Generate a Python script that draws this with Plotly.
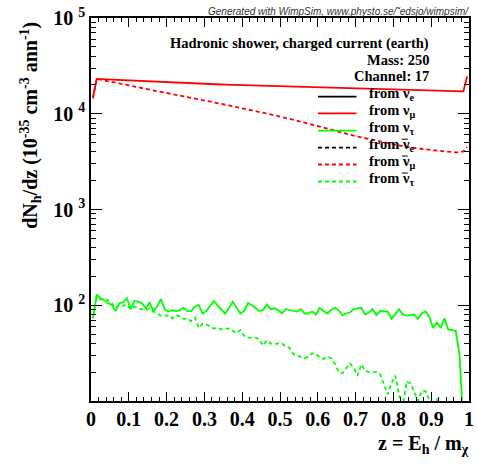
import plotly.graph_objects as go

# ---------------- data ----------------
z = [round(0.005 + 0.01 * i, 3) for i in range(100)]

numu = [14600,
        23100, 23000, 22900, 22800, 22700, 22600, 22500, 22400, 22300, 22200,
        22100, 22000, 21900, 21800, 21700, 21600, 21500, 21400, 21300, 21250,
        21150, 21100, 21000, 20950, 20900, 20800, 20750, 20650, 20600, 20500,
        20450, 20350, 20300, 20200, 20150, 20100, 20000, 19950, 19900, 19850,
        19800, 19750, 19700, 19650, 19600, 19550, 19500, 19450, 19400, 19350,
        19300, 19250, 19200, 19150, 19100, 19050, 19000, 18950, 18900, 18850,
        18800, 18780, 18750, 18700, 18650, 18600, 18560, 18520, 18480, 18450,
        18400, 18350, 18300, 18280, 18250, 18200, 18200, 18150, 18100, 18050,
        18000, 17950, 17900, 17850, 17800, 17750, 17700, 17650, 17600, 17550,
        17500, 17450, 17400, 17350, 17300, 17250, 17200, 17100, 24500]

numubar = [14500,
           23100, 22700, 22300, 21900, 21500, 21200, 20900, 20600, 20200, 19800,
           19400, 19000, 18600, 18200, 17850, 17500, 17200, 16900, 16600, 16300,
           16000, 15700, 15450, 15200, 14950, 14700, 14450, 14200, 13950, 13700,
           13450, 13200, 12950, 12700, 12450, 12200, 11950, 11700, 11450, 11250,
           11050, 10850, 10650, 10450, 10250, 10050, 9850, 9650, 9450, 9250,
           9100, 8900, 8700, 8500, 8300, 8100, 7900, 7700, 7500, 7300,
           7150, 6950, 6800, 6650, 6500, 6350, 6200, 6050, 5900, 5780,
           5650, 5530, 5410, 5300, 5190, 5080, 4980, 4880, 4790, 4710,
           4640, 4570, 4500, 4440, 4390, 4340, 4290, 4240, 4200, 4160,
           4120, 4080, 4040, 4000, 3970, 3950, 3960, 4050, 4500]

nutau = [73, 130, 118, 113, 105, 101, 87, 105, 107, 118,
         91, 111, 109, 105, 93, 107, 87, 97, 116, 91,
         86, 89, 87, 89, 94, 87, 87, 97, 101, 82,
         87, 97, 111, 99, 89, 82, 93, 109, 94, 82,
         87, 105, 101, 94, 87, 89, 102, 91, 93, 89,
         82, 91, 89, 87, 86, 91, 82, 82, 86, 80,
         94, 87, 82, 89, 94, 89, 79, 82, 84, 91,
         93, 94, 80, 84, 91, 79, 87, 86, 86, 72,
         80, 91, 80, 78, 79, 80, 72, 82, 86, 76,
         58, 66, 58, 73, 56, 55, 54, 30, 6, 1]

nutaubar = [78, 120, 116, 118, 113, 105, 93, 101, 99, 101,
            91, 97, 93, 91, 89, 93, 86, 82, 78, 78,
            78, 73, 79, 76, 72, 73, 68, 74, 58, 64,
            63, 60, 57, 58, 56, 57, 57, 54, 51, 55,
            48, 46, 46, 46, 44, 38, 43, 40, 39, 40,
            40, 37, 36, 31, 30, 29, 28, 29, 31.5, 31,
            28.5, 27.5, 29, 28, 24.7, 20, 19.5, 22, 24.7, 22.3,
            18.4, 24.1, 20.6, 20, 20, 20, 19, 14.7, 11.7, 15.3,
            18.4, 11.6, 9, 15.9, 15.3, 12.5, 10, 12.7, 12.7, 10.2,
            8, 10.6, 5, 1, 1, 1, 1, 1, 1, 1]

ytick_vals = [100, 1000, 10000, 100000]
ytick_text = ["10 <sup>2</sup>", "10 <sup>3</sup>", "10 <sup>4</sup>", "10 <sup>5</sup>"]

legend_labels = ["from ν<sub>e</sub>", "from ν<sub>μ</sub>", "from ν<sub>τ</sub>",
                 "from ν<sub>e</sub>", "from ν<sub>μ</sub>", "from ν<sub>τ</sub>"]
legend_antiparticle = [False, False, False, True, True, True]
legend_colors = ["black", "#ff0000", "#00ff00", "black", "#ff0000", "#00ff00"]
legend_dash = ["solid", "solid", "solid", "4px,3px", "4px,3px", "4px,3px"]

# ---------------- figure ----------------
W, H = 477, 470
ML, MR, MT, MB = 91, 3, 18, 69
PW, PH = W - ML - MR, H - MT - MB

def px(x):
    return (x - ML) / PW

def py(y):
    return (H - MB - y) / PH

SERIF = "Liberation Serif, Times New Roman, serif"
RED = "#ff0000"
GREEN = "#00ff00"
DASH = "4px,3px"

fig = go.Figure()
fig.add_trace(go.Scatter(x=z, y=numu, mode="lines", line=dict(color=RED, width=1.8), showlegend=False))
fig.add_trace(go.Scatter(x=z, y=numubar, mode="lines", line=dict(color=RED, width=1.8, dash=DASH), showlegend=False))
fig.add_trace(go.Scatter(x=z, y=nutau, mode="lines", line=dict(color=GREEN, width=1.8), showlegend=False))
fig.add_trace(go.Scatter(x=z, y=nutaubar, mode="lines", line=dict(color=GREEN, width=1.8, dash=DASH), showlegend=False))

minor_y = []
for d in [10, 100, 1000, 10000]:
    for k in range(2, 10):
        minor_y.append(d * k)

fig.update_layout(
    width=W, height=H,
    margin=dict(l=ML, r=MR, t=MT, b=MB, pad=0),
    paper_bgcolor="white", plot_bgcolor="white",
    showlegend=False,
    font=dict(family=SERIF, size=20, color="black", weight="bold"),
    xaxis=dict(range=[0, 1], tickmode="linear", tick0=0, dtick=0.1,
               ticks="inside", ticklen=9, tickwidth=1, tickcolor="black",
               showline=True, linecolor="black", linewidth=1.5, mirror="allticks",
               showgrid=False, zeroline=False, ticklabelstandoff=-1,
               tickfont=dict(family=SERIF, size=20, weight="bold"),
               minor=dict(ticks="inside", ticklen=4.5, dtick=0.02, tick0=0, tickcolor="black", showgrid=False)),
    yaxis=dict(type="log", range=[1, 5], tickvals=ytick_vals, ticktext=ytick_text,
               ticks="inside", ticklen=11, tickwidth=1, tickcolor="black",
               showline=True, linecolor="black", linewidth=1.5, mirror="allticks",
               showgrid=False, zeroline=False,
               tickfont=dict(family=SERIF, size=20, weight="bold"),
               minor=dict(ticks="inside", ticklen=5.5, tickvals=minor_y, tickcolor="black", showgrid=False)),
)

ann = []
def add_text(text, x, y, xanchor="right", yanchor="middle", size=14.5, **kw):
    ann.append(dict(text=text, x=px(x), y=py(y), xref="paper", yref="paper",
                    xanchor=xanchor, yanchor=yanchor, showarrow=False,
                    font=dict(family=kw.pop("family", SERIF), size=size,
                              color=kw.pop("color", "black"), weight=kw.pop("weight", "bold"),
                              style=kw.pop("style", "normal")), **kw))

add_text("Generated with WimpSim, www.physto.se/˜edsjo/wimpsim/", 476, 12, size=10,
         family="Liberation Sans, Arial, sans-serif", color="#333333", weight="normal", style="italic")
add_text("Hadronic shower, charged current (earth)", 436, 43)
add_text("Mass: 250", 436, 60)
add_text("Channel: 17", 436, 76)

leg_line_y = [96.7, 113.3, 130.7, 147.7, 164.5, 181.5]
shapes = []
for lab, bar, col, dsh, ly in zip(legend_labels, legend_antiparticle, legend_colors, legend_dash, leg_line_y):
    shapes.append(dict(type="line", xref="paper", yref="paper",
                       x0=px(321), x1=px(360), y0=py(ly), y1=py(ly),
                       line=dict(color=col, width=1.8, dash=dsh)))
    add_text(lab, 371, ly - 2.5, xanchor="left")
    if bar:
        # overbar of the anti-neutrino symbol
        shapes.append(dict(type="line", xref="paper", yref="paper",
                           x0=px(406), x1=px(412), y0=py(ly - 8.5), y1=py(ly - 8.5),
                           line=dict(color="black", width=1)))

add_text("z = E<sub>h</sub> / m<sub>χ</sub>", 476, 444, size=20)
add_text("dN<sub>h</sub>/dz (10<sup>-35</sup> cm<sup>-3</sup> ann<sup>-1</sup>)", 30, 125,
         xanchor="center", size=20, textangle=-90)

fig.update_layout(annotations=ann, shapes=shapes)
fig.write_html("out.html", config={"displayModeBar": False},
               post_script="document.body.style.margin='0';document.body.style.padding='0';")
